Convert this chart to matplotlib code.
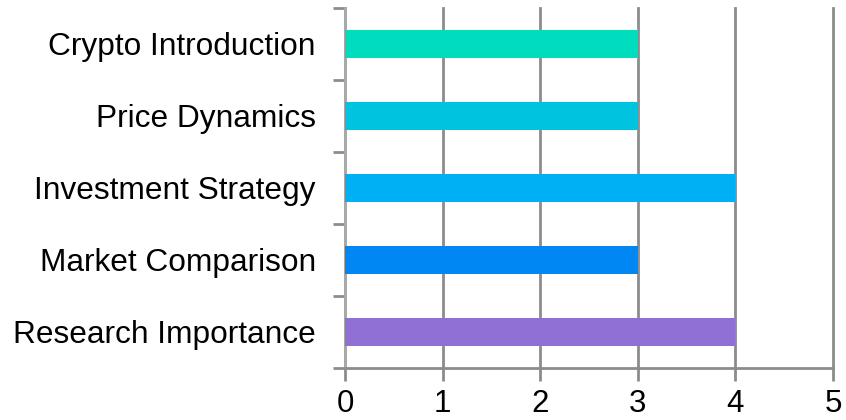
import matplotlib
matplotlib.use("Agg")
import matplotlib.pyplot as plt

categories = ["Crypto Introduction", "Price Dynamics", "Investment Strategy",
              "Market Comparison", "Research Importance"]
values = [3, 3, 4, 3, 4]
colors = ["#00DCBE", "#00C4DF", "#00B0F4", "#0087F3", "#9070D5"]
x_ticks = [0, 1, 2, 3, 4, 5]

plt.rcParams["font.family"] = ["Liberation Sans", "DejaVu Sans"]

fig = plt.figure(figsize=(8.46, 4.2), dpi=100)
ax = fig.add_axes([345 / 846, 1 - 368 / 420, 488 / 846, 360 / 420])

pos = list(range(len(categories)))
ax.barh(pos, values, height=0.4, color=colors, zorder=3)

ax.set_xlim(0, 5)
ax.set_ylim(len(categories) - 0.5, -0.5)
ax.set_xticks(x_ticks)
ax.set_xticklabels([str(t) for t in x_ticks], fontsize=22.5)

# category labels centred on bars, ticks at band boundaries
ax.set_yticks(pos)
ax.set_yticklabels(categories, fontsize=22.8)
ax.tick_params(axis="y", which="major", length=0, pad=21)
ax.set_yticks([p - 0.5 for p in pos] + [len(categories) - 0.5], minor=True)
ax.tick_params(axis="y", which="minor", length=9, width=2, color="#8c8c8c")
ax.tick_params(axis="x", length=9, width=2, color="#8c8c8c", pad=6)

ax.grid(axis="x", color="#8c8c8c", linewidth=2, zorder=0)
for gl in ax.get_xgridlines():
    gl.set_clip_on(False)
for side in ("top", "right"):
    ax.spines[side].set_visible(False)
ax.spines["left"].set_color("#aaaaaa")
ax.spines["left"].set_linewidth(2)
ax.spines["bottom"].set_color("#8c8c8c")
ax.spines["bottom"].set_linewidth(2)

fig.savefig("out.png", dpi=100)
